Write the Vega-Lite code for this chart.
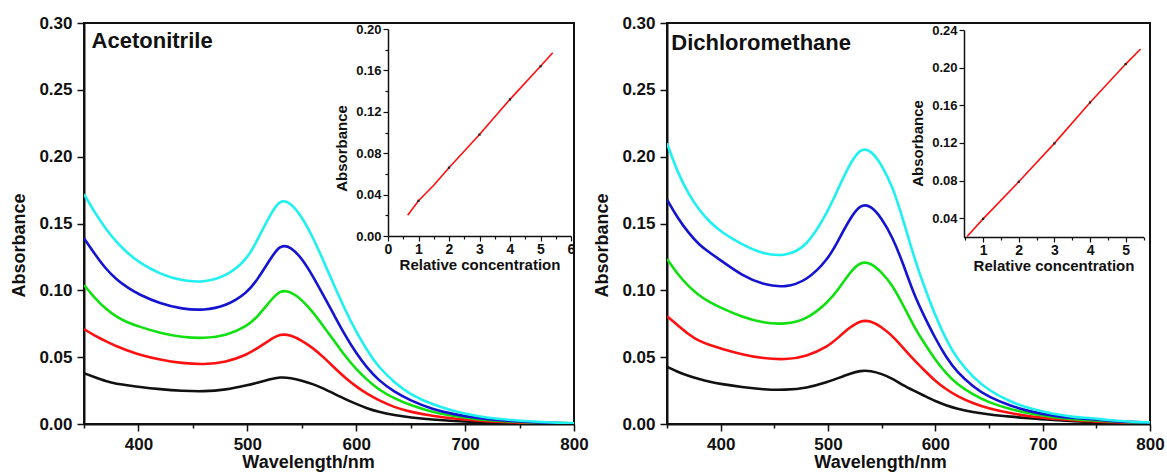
{
  "$schema": "https://vega.github.io/schema/vega-lite/v6.json",
  "padding": {"left": 9, "top": 13, "right": 5, "bottom": 0},
  "background": "white",
  "bounds": "flush",
  "spacing": 93,
  "config": {
    "font": "Liberation Sans",
    "view": {"stroke": "#111111", "strokeWidth": 2},
    "axis": {"domainColor": "#111111", "domainWidth": 2, "tickColor": "#111111", "tickWidth": 1.5, "labelFontWeight": "bold", "titleFontWeight": "bold", "labelColor": "#111111", "titleColor": "#111111", "grid": false, "labelFont": "Liberation Sans", "titleFont": "Liberation Sans", "labelOverlap": false, "labelFlush": false},
    "text": {"font": "Liberation Sans"}
  },
  "datasets": {
    "specA": [
      {"s":"1","w":350,"a":0.038},{"s":"2","w":350,"a":0.071},{"s":"3","w":350,"a":0.104},{"s":"4","w":350,"a":0.139},{"s":"5","w":350,"a":0.172},
      {"s":"1","w":360,"a":0.035},{"s":"2","w":360,"a":0.066},{"s":"3","w":360,"a":0.094},{"s":"4","w":360,"a":0.127},{"s":"5","w":360,"a":0.158},
      {"s":"1","w":370,"a":0.032},{"s":"2","w":370,"a":0.062},{"s":"3","w":370,"a":0.086},{"s":"4","w":370,"a":0.116},{"s":"5","w":370,"a":0.146},
      {"s":"1","w":380,"a":0.030},{"s":"2","w":380,"a":0.058},{"s":"3","w":380,"a":0.080},{"s":"4","w":380,"a":0.108},{"s":"5","w":380,"a":0.136},
      {"s":"1","w":390,"a":0.029},{"s":"2","w":390,"a":0.055},{"s":"3","w":390,"a":0.076},{"s":"4","w":390,"a":0.102},{"s":"5","w":390,"a":0.128},
      {"s":"1","w":400,"a":0.0278},{"s":"2","w":400,"a":0.052},{"s":"3","w":400,"a":0.073},{"s":"4","w":400,"a":0.097},{"s":"5","w":400,"a":0.121},
      {"s":"1","w":420,"a":0.026},{"s":"2","w":420,"a":0.048},{"s":"3","w":420,"a":0.068},{"s":"4","w":420,"a":0.090},{"s":"5","w":420,"a":0.112},
      {"s":"1","w":440,"a":0.0248},{"s":"2","w":440,"a":0.0455},{"s":"3","w":440,"a":0.065},{"s":"4","w":440,"a":0.086},{"s":"5","w":440,"a":0.107},
      {"s":"1","w":460,"a":0.0243},{"s":"2","w":460,"a":0.0445},{"s":"3","w":460,"a":0.064},{"s":"4","w":460,"a":0.085},{"s":"5","w":460,"a":0.106},
      {"s":"1","w":480,"a":0.0255},{"s":"2","w":480,"a":0.046},{"s":"3","w":480,"a":0.066},{"s":"4","w":480,"a":0.088},{"s":"5","w":480,"a":0.110},
      {"s":"1","w":500,"a":0.029},{"s":"2","w":500,"a":0.052},{"s":"3","w":500,"a":0.073},{"s":"4","w":500,"a":0.098},{"s":"5","w":500,"a":0.123},
      {"s":"1","w":510,"a":0.031},{"s":"2","w":510,"a":0.057},{"s":"3","w":510,"a":0.081},{"s":"4","w":510,"a":0.109},{"s":"5","w":510,"a":0.139},
      {"s":"1","w":520,"a":0.0333},{"s":"2","w":520,"a":0.0625},{"s":"3","w":520,"a":0.091},{"s":"4","w":520,"a":0.122},{"s":"5","w":520,"a":0.155},
      {"s":"1","w":530,"a":0.0352},{"s":"2","w":530,"a":0.0675},{"s":"3","w":530,"a":0.1005},{"s":"4","w":530,"a":0.1345},{"s":"5","w":530,"a":0.1685},
      {"s":"1","w":540,"a":0.0345},{"s":"2","w":540,"a":0.0665},{"s":"3","w":540,"a":0.099},{"s":"4","w":540,"a":0.1325},{"s":"5","w":540,"a":0.1655},
      {"s":"1","w":550,"a":0.0325},{"s":"2","w":550,"a":0.0625},{"s":"3","w":550,"a":0.093},{"s":"4","w":550,"a":0.124},{"s":"5","w":550,"a":0.155},
      {"s":"1","w":560,"a":0.030},{"s":"2","w":560,"a":0.057},{"s":"3","w":560,"a":0.084},{"s":"4","w":560,"a":0.111},{"s":"5","w":560,"a":0.140},
      {"s":"1","w":570,"a":0.0265},{"s":"2","w":570,"a":0.050},{"s":"3","w":570,"a":0.073},{"s":"4","w":570,"a":0.096},{"s":"5","w":570,"a":0.122},
      {"s":"1","w":580,"a":0.0225},{"s":"2","w":580,"a":0.042},{"s":"3","w":580,"a":0.062},{"s":"4","w":580,"a":0.081},{"s":"5","w":580,"a":0.103},
      {"s":"1","w":590,"a":0.0185},{"s":"2","w":590,"a":0.0345},{"s":"3","w":590,"a":0.0505},{"s":"4","w":590,"a":0.066},{"s":"5","w":590,"a":0.085},
      {"s":"1","w":600,"a":0.015},{"s":"2","w":600,"a":0.028},{"s":"3","w":600,"a":0.041},{"s":"4","w":600,"a":0.053},{"s":"5","w":600,"a":0.069},
      {"s":"1","w":610,"a":0.0117},{"s":"2","w":610,"a":0.0225},{"s":"3","w":610,"a":0.033},{"s":"4","w":610,"a":0.042},{"s":"5","w":610,"a":0.055},
      {"s":"1","w":620,"a":0.0092},{"s":"2","w":620,"a":0.018},{"s":"3","w":620,"a":0.026},{"s":"4","w":620,"a":0.033},{"s":"5","w":620,"a":0.043},
      {"s":"1","w":635,"a":0.0066},{"s":"2","w":635,"a":0.0125},{"s":"3","w":635,"a":0.019},{"s":"4","w":635,"a":0.024},{"s":"5","w":635,"a":0.031},
      {"s":"1","w":650,"a":0.0048},{"s":"2","w":650,"a":0.009},{"s":"3","w":650,"a":0.014},{"s":"4","w":650,"a":0.0175},{"s":"5","w":650,"a":0.022},
      {"s":"1","w":670,"a":0.0033},{"s":"2","w":670,"a":0.006},{"s":"3","w":670,"a":0.0088},{"s":"4","w":670,"a":0.011},{"s":"5","w":670,"a":0.0145},
      {"s":"1","w":690,"a":0.0022},{"s":"2","w":690,"a":0.004},{"s":"3","w":690,"a":0.0058},{"s":"4","w":690,"a":0.0072},{"s":"5","w":690,"a":0.0095},
      {"s":"1","w":710,"a":0.0015},{"s":"2","w":710,"a":0.0026},{"s":"3","w":710,"a":0.0037},{"s":"4","w":710,"a":0.0046},{"s":"5","w":710,"a":0.006},
      {"s":"1","w":730,"a":0.001},{"s":"2","w":730,"a":0.0017},{"s":"3","w":730,"a":0.0024},{"s":"4","w":730,"a":0.003},{"s":"5","w":730,"a":0.0038},
      {"s":"1","w":750,"a":0.0006},{"s":"2","w":750,"a":0.001},{"s":"3","w":750,"a":0.0015},{"s":"4","w":750,"a":0.0018},{"s":"5","w":750,"a":0.0024},
      {"s":"1","w":775,"a":0.0003},{"s":"2","w":775,"a":0.0005},{"s":"3","w":775,"a":0.0008},{"s":"4","w":775,"a":0.0009},{"s":"5","w":775,"a":0.0012},
      {"s":"1","w":800,"a":0.0002},{"s":"2","w":800,"a":0.0003},{"s":"3","w":800,"a":0.0004},{"s":"4","w":800,"a":0.0005},{"s":"5","w":800,"a":0.0006}
    ],
    "specB": [
      {"s":"1","w":350,"a":0.0428},{"s":"2","w":350,"a":0.0806},{"s":"3","w":350,"a":0.1235},{"s":"4","w":350,"a":0.168},{"s":"5","w":350,"a":0.210},
      {"s":"1","w":360,"a":0.039},{"s":"2","w":360,"a":0.074},{"s":"3","w":360,"a":0.112},{"s":"4","w":360,"a":0.154},{"s":"5","w":360,"a":0.188},
      {"s":"1","w":370,"a":0.036},{"s":"2","w":370,"a":0.067},{"s":"3","w":370,"a":0.103},{"s":"4","w":370,"a":0.143},{"s":"5","w":370,"a":0.172},
      {"s":"1","w":380,"a":0.0335},{"s":"2","w":380,"a":0.062},{"s":"3","w":380,"a":0.096},{"s":"4","w":380,"a":0.134},{"s":"5","w":380,"a":0.160},
      {"s":"1","w":390,"a":0.0315},{"s":"2","w":390,"a":0.059},{"s":"3","w":390,"a":0.091},{"s":"4","w":390,"a":0.128},{"s":"5","w":390,"a":0.151},
      {"s":"1","w":400,"a":0.030},{"s":"2","w":400,"a":0.0565},{"s":"3","w":400,"a":0.087},{"s":"4","w":400,"a":0.1225},{"s":"5","w":400,"a":0.144},
      {"s":"1","w":420,"a":0.0275},{"s":"2","w":420,"a":0.052},{"s":"3","w":420,"a":0.080},{"s":"4","w":420,"a":0.111},{"s":"5","w":420,"a":0.134},
      {"s":"1","w":440,"a":0.0258},{"s":"2","w":440,"a":0.049},{"s":"3","w":440,"a":0.0755},{"s":"4","w":440,"a":0.104},{"s":"5","w":440,"a":0.127},
      {"s":"1","w":460,"a":0.0254},{"s":"2","w":460,"a":0.048},{"s":"3","w":460,"a":0.0745},{"s":"4","w":460,"a":0.102},{"s":"5","w":460,"a":0.1255},
      {"s":"1","w":480,"a":0.0268},{"s":"2","w":480,"a":0.0505},{"s":"3","w":480,"a":0.078},{"s":"4","w":480,"a":0.107},{"s":"5","w":480,"a":0.132},
      {"s":"1","w":500,"a":0.0315},{"s":"2","w":500,"a":0.058},{"s":"3","w":500,"a":0.091},{"s":"4","w":500,"a":0.123},{"s":"5","w":500,"a":0.159},
      {"s":"1","w":510,"a":0.0345},{"s":"2","w":510,"a":0.065},{"s":"3","w":510,"a":0.101},{"s":"4","w":510,"a":0.138},{"s":"5","w":510,"a":0.177},
      {"s":"1","w":520,"a":0.0375},{"s":"2","w":520,"a":0.072},{"s":"3","w":520,"a":0.113},{"s":"4","w":520,"a":0.153},{"s":"5","w":520,"a":0.194},
      {"s":"1","w":530,"a":0.040},{"s":"2","w":530,"a":0.0775},{"s":"3","w":530,"a":0.1215},{"s":"4","w":530,"a":0.1645},{"s":"5","w":530,"a":0.2065},
      {"s":"1","w":540,"a":0.0398},{"s":"2","w":540,"a":0.0772},{"s":"3","w":540,"a":0.1205},{"s":"4","w":540,"a":0.1635},{"s":"5","w":540,"a":0.205},
      {"s":"1","w":550,"a":0.0375},{"s":"2","w":550,"a":0.0725},{"s":"3","w":550,"a":0.1135},{"s":"4","w":550,"a":0.154},{"s":"5","w":550,"a":0.194},
      {"s":"1","w":560,"a":0.034},{"s":"2","w":560,"a":0.066},{"s":"3","w":560,"a":0.104},{"s":"4","w":560,"a":0.140},{"s":"5","w":560,"a":0.178},
      {"s":"1","w":570,"a":0.029},{"s":"2","w":570,"a":0.057},{"s":"3","w":570,"a":0.089},{"s":"4","w":570,"a":0.120},{"s":"5","w":570,"a":0.153},
      {"s":"1","w":580,"a":0.025},{"s":"2","w":580,"a":0.048},{"s":"3","w":580,"a":0.073},{"s":"4","w":580,"a":0.097},{"s":"5","w":580,"a":0.125},
      {"s":"1","w":590,"a":0.021},{"s":"2","w":590,"a":0.040},{"s":"3","w":590,"a":0.060},{"s":"4","w":590,"a":0.080},{"s":"5","w":590,"a":0.102},
      {"s":"1","w":600,"a":0.017},{"s":"2","w":600,"a":0.032},{"s":"3","w":600,"a":0.048},{"s":"4","w":600,"a":0.064},{"s":"5","w":600,"a":0.081},
      {"s":"1","w":610,"a":0.014},{"s":"2","w":610,"a":0.026},{"s":"3","w":610,"a":0.038},{"s":"4","w":610,"a":0.050},{"s":"5","w":610,"a":0.063},
      {"s":"1","w":620,"a":0.0115},{"s":"2","w":620,"a":0.021},{"s":"3","w":620,"a":0.030},{"s":"4","w":620,"a":0.039},{"s":"5","w":620,"a":0.049},
      {"s":"1","w":635,"a":0.0088},{"s":"2","w":635,"a":0.0155},{"s":"3","w":635,"a":0.022},{"s":"4","w":635,"a":0.028},{"s":"5","w":635,"a":0.035},
      {"s":"1","w":650,"a":0.007},{"s":"2","w":650,"a":0.0115},{"s":"3","w":650,"a":0.016},{"s":"4","w":650,"a":0.020},{"s":"5","w":650,"a":0.025},
      {"s":"1","w":670,"a":0.0055},{"s":"2","w":670,"a":0.008},{"s":"3","w":670,"a":0.011},{"s":"4","w":670,"a":0.0135},{"s":"5","w":670,"a":0.0165},
      {"s":"1","w":690,"a":0.004},{"s":"2","w":690,"a":0.0055},{"s":"3","w":690,"a":0.0075},{"s":"4","w":690,"a":0.009},{"s":"5","w":690,"a":0.011},
      {"s":"1","w":710,"a":0.003},{"s":"2","w":710,"a":0.004},{"s":"3","w":710,"a":0.005},{"s":"4","w":710,"a":0.006},{"s":"5","w":710,"a":0.0075},
      {"s":"1","w":730,"a":0.002},{"s":"2","w":730,"a":0.0028},{"s":"3","w":730,"a":0.0035},{"s":"4","w":730,"a":0.0042},{"s":"5","w":730,"a":0.005},
      {"s":"1","w":745,"a":0.0015},{"s":"2","w":745,"a":0.002},{"s":"3","w":745,"a":0.0028},{"s":"4","w":745,"a":0.0038},{"s":"5","w":745,"a":0.0045},
      {"s":"1","w":760,"a":0.001},{"s":"2","w":760,"a":0.0015},{"s":"3","w":760,"a":0.002},{"s":"4","w":760,"a":0.0025},{"s":"5","w":760,"a":0.003},
      {"s":"1","w":780,"a":0.0007},{"s":"2","w":780,"a":0.001},{"s":"3","w":780,"a":0.0012},{"s":"4","w":780,"a":0.0015},{"s":"5","w":780,"a":0.0018},
      {"s":"1","w":800,"a":0.0005},{"s":"2","w":800,"a":0.0006},{"s":"3","w":800,"a":0.0008},{"s":"4","w":800,"a":0.001},{"s":"5","w":800,"a":0.0012}
    ],
    "insetA": [
      {"c":0.646,"a":0.020,"pt":false},{"c":1,"a":0.034,"pt":true},{"c":1.5,"a":0.049,"pt":false},{"c":2,"a":0.066,"pt":true},{"c":3,"a":0.098,"pt":true},{"c":4,"a":0.132,"pt":true},{"c":5,"a":0.164,"pt":true},{"c":5.4,"a":0.177,"pt":false}
    ],
    "insetB": [
      {"c":0.55,"a":0.0205,"pt":false},{"c":1,"a":0.0393,"pt":true},{"c":2,"a":0.0787,"pt":true},{"c":3,"a":0.1195,"pt":true},{"c":4,"a":0.163,"pt":true},{"c":5,"a":0.2038,"pt":true},{"c":5.42,"a":0.2198,"pt":false}
    ]
  },
  "hconcat": [
    {
      "width": 490,
      "height": 401,
      "layer": [
        {
          "layer": [
            {
              "data": {"name": "specA"},
              "mark": {"type": "line", "strokeWidth": 2.6, "interpolate": "basis", "clip": true},
              "encoding": {
                "x": {"field": "w", "type": "quantitative", "scale": {"domain": [350, 800], "nice": false, "zero": false},
                  "axis": {"orient": "bottom", "values": [350,400,450,500,550,600,650,700,750,800], "labelExpr": "datum.value % 100 == 0 ? '' + datum.value : ''", "tickSize": {"condition": {"test": "datum.value % 100 == 0", "value": 7}, "value": 4}, "labelFontSize": 17, "labelPadding": 5, "title": "Wavelength/nm", "titleFontSize": 18, "titlePadding": 1, "titleX": 224}},
                "y": {"field": "a", "type": "quantitative", "scale": {"domain": [0, 0.3], "nice": false},
                  "axis": {"orient": "left", "values": [0,0.025,0.05,0.075,0.1,0.125,0.15,0.175,0.2,0.225,0.25,0.275,0.3], "labelExpr": "round(datum.value*1000) % 50 == 0 ? format(datum.value, '.2f') : ''", "tickSize": {"condition": {"test": "round(datum.value*1000) % 50 == 0", "value": 7}, "value": 4}, "labelFontSize": 17, "labelPadding": 5, "title": "Absorbance", "titleFontSize": 18, "titlePadding": 10, "titleY": 222}},
                "color": {"field": "s", "type": "nominal", "scale": {"domain": ["1","2","3","4","5"], "range": ["#111111", "#ff1010", "#10e010", "#1414d0", "#20f0f0"]}, "legend": null}
              }
            },
            {
              "data": {"values": [{"label": "Acetonitrile"}]},
              "mark": {"type": "text", "align": "left", "baseline": "alphabetic", "fontSize": 22, "fontWeight": "bold", "color": "#111111"},
              "encoding": {
                "x": {"datum": 357, "type": "quantitative"},
                "y": {"datum": 0.2813, "type": "quantitative"},
                "text": {"field": "label"}
              }
            }
          ]
        },
        {
          "data": {"name": "insetA"},
          "layer": [
            {
              "mark": {"type": "line", "color": "#ff1010", "strokeWidth": 1.6},
              "encoding": {
                "x": {"field": "c", "type": "quantitative", "scale": {"domain": [0, 6], "range": [304, 487], "nice": false, "zero": false},
                  "axis": {"orient": "bottom", "offset": -188, "values": [0,0.5,1,1.5,2,2.5,3,3.5,4,4.5,5,5.5,6], "labelExpr": "datum.value % 1 == 0 ? '' + datum.value : ''", "tickSize": {"condition": {"test": "datum.value % 1 == 0", "value": 5}, "value": 3}, "domainWidth": 1.5, "tickWidth": 1.2, "labelFontSize": 14, "labelPadding": 1, "title": "Relative concentration", "titleFontSize": 15, "titlePadding": 1}},
                "y": {"field": "a", "type": "quantitative", "scale": {"domain": [0, 0.2], "range": [213, 6], "nice": false, "zero": false},
                  "axis": {"orient": "left", "offset": -304, "values": [0,0.02,0.04,0.06,0.08,0.1,0.12,0.14,0.16,0.18,0.2], "labelExpr": "indexof(['0.00','0.04','0.08','0.12','0.16','0.20'], format(datum.value, '.2f')) >= 0 ? format(datum.value, '.2f') : ''", "tickSize": {"condition": {"test": "indexof(['0.00','0.04','0.08','0.12','0.16','0.20'], format(datum.value, '.2f')) >= 0", "value": 5}, "value": 3}, "domainWidth": 1.5, "tickWidth": 1.2, "labelFontSize": 13, "labelPadding": 2, "title": "Absorbance", "titleFontSize": 15, "titlePadding": 6, "titleY": 125}}
              }
            },
            {
              "transform": [{"filter": "datum.pt"}],
              "mark": {"type": "square", "color": "#222222", "size": 5, "opacity": 1},
              "encoding": {
                "x": {"field": "c", "type": "quantitative"},
                "y": {"field": "a", "type": "quantitative"}
              }
            }
          ]
        }
      ],
      "resolve": {"scale": {"x": "independent", "y": "independent"}, "axis": {"x": "independent", "y": "independent"}}
    },
    {
      "width": 483,
      "height": 401,
      "layer": [
        {
          "layer": [
            {
              "data": {"name": "specB"},
              "mark": {"type": "line", "strokeWidth": 2.6, "interpolate": "basis", "clip": true},
              "encoding": {
                "x": {"field": "w", "type": "quantitative", "scale": {"domain": [350, 800], "nice": false, "zero": false},
                  "axis": {"orient": "bottom", "values": [350,400,450,500,550,600,650,700,750,800], "labelExpr": "datum.value % 100 == 0 ? '' + datum.value : ''", "tickSize": {"condition": {"test": "datum.value % 100 == 0", "value": 7}, "value": 4}, "labelFontSize": 17, "labelPadding": 5, "title": "Wavelength/nm", "titleFontSize": 18, "titlePadding": 1, "titleX": 213}},
                "y": {"field": "a", "type": "quantitative", "scale": {"domain": [0, 0.3], "nice": false},
                  "axis": {"orient": "left", "values": [0,0.025,0.05,0.075,0.1,0.125,0.15,0.175,0.2,0.225,0.25,0.275,0.3], "labelExpr": "round(datum.value*1000) % 50 == 0 ? format(datum.value, '.2f') : ''", "tickSize": {"condition": {"test": "round(datum.value*1000) % 50 == 0", "value": 7}, "value": 4}, "labelFontSize": 17, "labelPadding": 5, "title": "Absorbance", "titleFontSize": 18, "titlePadding": 10, "titleY": 222}},
                "color": {"field": "s", "type": "nominal", "scale": {"domain": ["1","2","3","4","5"], "range": ["#111111", "#ff1010", "#10e010", "#1414d0", "#20f0f0"]}, "legend": null}
              }
            },
            {
              "data": {"values": [{"label": "Dichloromethane"}]},
              "mark": {"type": "text", "align": "left", "baseline": "alphabetic", "fontSize": 22, "fontWeight": "bold", "color": "#111111"},
              "encoding": {
                "x": {"datum": 354, "type": "quantitative"},
                "y": {"datum": 0.2798, "type": "quantitative"},
                "text": {"field": "label"}
              }
            }
          ]
        },
        {
          "data": {"name": "insetB"},
          "layer": [
            {
              "mark": {"type": "line", "color": "#ff1010", "strokeWidth": 1.6},
              "encoding": {
                "x": {"field": "c", "type": "quantitative", "scale": {"domain": [0.45, 5.5], "range": [296.5, 476.5], "nice": false, "zero": false},
                  "axis": {"orient": "bottom", "offset": -187, "values": [0.5,1,1.5,2,2.5,3,3.5,4,4.5,5,5.5], "labelExpr": "datum.value % 1 == 0 ? '' + datum.value : ''", "tickSize": {"condition": {"test": "datum.value % 1 == 0", "value": 5}, "value": 3}, "domainWidth": 1.5, "tickWidth": 1.2, "labelFontSize": 14, "labelPadding": 1, "title": "Relative concentration", "titleFontSize": 15, "titlePadding": 1}},
                "y": {"field": "a", "type": "quantitative", "scale": {"domain": [0.02, 0.24], "range": [214, 7], "nice": false, "zero": false},
                  "axis": {"orient": "left", "offset": -297, "values": [0.04,0.08,0.12,0.16,0.2,0.24], "format": ".2f", "tickSize": 5, "domainWidth": 1.5, "tickWidth": 1.2, "labelFontSize": 13, "labelPadding": 2, "labelColor": "#111111", "labelOpacity": 1, "title": "Absorbance", "titleFontSize": 15, "titlePadding": 6, "titleY": 120}}
              }
            },
            {
              "transform": [{"filter": "datum.pt"}],
              "mark": {"type": "square", "color": "#222222", "size": 5, "opacity": 1},
              "encoding": {
                "x": {"field": "c", "type": "quantitative"},
                "y": {"field": "a", "type": "quantitative"}
              }
            }
          ]
        }
      ],
      "resolve": {"scale": {"x": "independent", "y": "independent"}, "axis": {"x": "independent", "y": "independent"}}
    }
  ]
}
